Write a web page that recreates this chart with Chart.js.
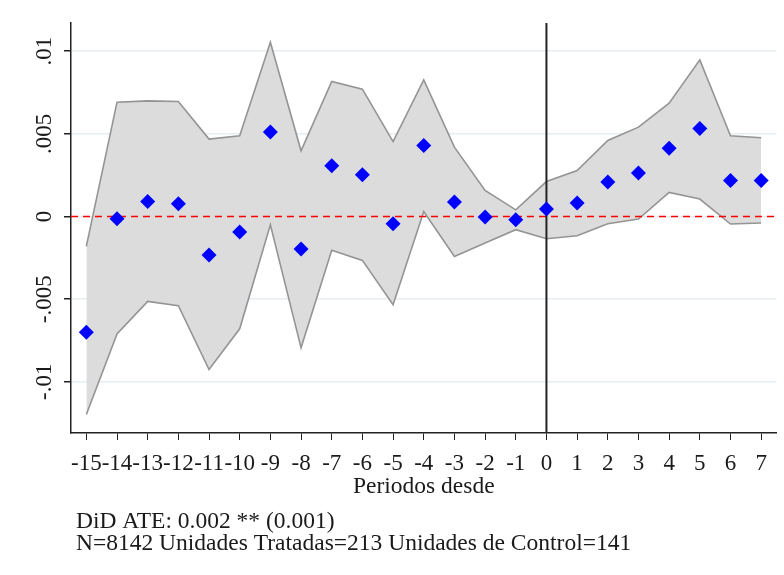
<!DOCTYPE html>
<html>
<head>
<meta charset="utf-8">
<script src="https://cdn.jsdelivr.net/npm/chart.js@4"></script>
<style>
  html, body { margin: 0; padding: 0; background: #fff; }
  #wrap { width: 784px; height: 575px; position: relative; }
</style>
</head>
<body>
<div id="wrap"><canvas id="didChart"></canvas></div>
<script>
// event-study periods and estimates
const periods = [-15, -14, -13, -12, -11, -10, -9, -8, -7, -6, -5, -4, -3, -2, -1, 0, 1, 2, 3, 4, 5, 6, 7];
const coef    = [-0.0070, -0.00014, 0.0009, 0.00077, -0.00233, -0.00094, 0.0051, -0.00197, 0.00306, 0.00252, -0.00044, 0.00429, 0.00087, -0.00004, -0.0002, 0.00045, 0.00081, 0.00208, 0.00262, 0.00413, 0.00532, 0.00218, 0.00218];
const ciUpper = [-0.00181, 0.00691, 0.00699, 0.00695, 0.00468, 0.00488, 0.01054, 0.00397, 0.00816, 0.0077, 0.00453, 0.00826, 0.00419, 0.00157, 0.0004, 0.00211, 0.00278, 0.00459, 0.0054, 0.00685, 0.00947, 0.00488, 0.00476];
const ciLower = [-0.01198, -0.00711, -0.00514, -0.0054, -0.00926, -0.0068, -0.0005, -0.00795, -0.00205, -0.00266, -0.00534, 0.0003, -0.00242, -0.00161, -0.0008, -0.00135, -0.00117, -0.00044, -0.00016, 0.00145, 0.00105, -0.00046, -0.0004];
const yTicks = [-0.01, -0.005, 0, 0.005, 0.01];
const yTickLabels = ['-.01', '-.005', '0', '.005', '.01'];
const xTitle = 'Periodos desde';
const notes = ['DiD ATE: 0.002 ** (0.001)', 'N=8142 Unidades Tratadas=213 Unidades de Control=141'];

const FONT = '"Liberation Serif", "Times New Roman", serif';
const toXY = arr => arr.map((v, i) => ({ x: periods[i], y: v }));

// zero line (red dashed) and treatment line (black) go under the diamonds
const refLines = {
    id: 'refLines',
    beforeDatasetDraw(chart, args) {
        if (args.index !== 0) return;
        const { ctx, chartArea: a, scales: { x, y } } = chart;
        ctx.save();
        const y0 = y.getPixelForValue(0);
        ctx.strokeStyle = '#ff0000';
        ctx.lineWidth = 1.5;
        ctx.setLineDash([7, 5]);
        ctx.beginPath();
        ctx.moveTo(a.left, y0);
        ctx.lineTo(a.right, y0);
        ctx.stroke();
        ctx.setLineDash([]);
        const x0 = x.getPixelForValue(0);
        ctx.strokeStyle = '#222';
        ctx.lineWidth = 2;
        ctx.beginPath();
        ctx.moveTo(x0, a.top);
        ctx.lineTo(x0, a.bottom);
        ctx.stroke();
        ctx.restore();
    }
};

// rotated y tick labels and the footnote lines
const textBits = {
    id: 'textBits',
    afterDraw(chart) {
        const { ctx, scales: { y } } = chart;
        ctx.save();
        ctx.fillStyle = '#1a1a1a';
        ctx.font = '23px ' + FONT;
        ctx.textAlign = 'center';
        ctx.textBaseline = 'middle';
        yTicks.forEach((v, i) => {
            ctx.save();
            ctx.translate(45, y.getPixelForValue(v));
            ctx.rotate(-Math.PI / 2);
            ctx.fillText(yTickLabels[i], 0, 0);
            ctx.restore();
        });
        ctx.textAlign = 'left';
        ctx.textBaseline = 'alphabetic';
        ctx.font = '23.5px ' + FONT;
        notes.forEach((t, i) => ctx.fillText(t, 76, 528 + i * 22));
        ctx.restore();
    }
};

new Chart(document.getElementById('didChart'), {
    type: 'line',
    data: {
        datasets: [
            {
                label: 'coef',
                data: toXY(coef),
                showLine: false,
                pointStyle: 'rectRot',
                pointRadius: 7.5,
                pointBackgroundColor: '#0000ff',
                pointBorderColor: '#0000ff',
                pointBorderWidth: 0
            },
            {
                label: 'lower',
                data: toXY(ciLower),
                borderColor: '#949494',
                borderWidth: 1.6,
                pointRadius: 0,
                tension: 0,
                fill: false
            },
            {
                label: 'upper',
                data: toXY(ciUpper),
                borderColor: '#949494',
                borderWidth: 1.6,
                backgroundColor: '#dcdcdc',
                pointRadius: 0,
                tension: 0,
                fill: '-1'
            }
        ]
    },
    options: {
        responsive: true,
        maintainAspectRatio: false,
        animation: false,
        layout: { padding: { top: 23, right: 7, bottom: 70, left: 0 } },
        plugins: {
            legend: { display: false },
            tooltip: { enabled: false }
        },
        scales: {
            x: {
                type: 'linear',
                min: -15.5,
                max: 7.5,
                afterBuildTicks: s => { s.ticks = periods.map(v => ({ value: v })); },
                afterFit: s => { s.height = 575 - 433 - 70; },
                grid: { display: true, drawOnChartArea: false, color: '#222', tickLength: 7 },
                border: { display: true, color: '#222', width: 1.5 },
                ticks: {
                    color: '#1a1a1a',
                    font: { family: FONT, size: 23 },
                    padding: 10,
                    maxRotation: 0,
                    autoSkip: false
                },
                title: {
                    display: true,
                    text: xTitle,
                    color: '#1a1a1a',
                    font: { family: FONT, size: 23.5 },
                    padding: { top: 0, bottom: 4 }
                }
            },
            y: {
                min: -0.0131,
                max: 0.0117,
                afterBuildTicks: s => { s.ticks = yTicks.map(v => ({ value: v })); },
                afterFit: s => { s.width = 71; },
                grid: { color: '#e6eef2', tickColor: '#222', tickLength: 7, lineWidth: 1.5 },
                border: { display: true, color: '#222', width: 1.5 },
                ticks: { display: false }
            }
        }
    },
    plugins: [refLines, textBits]
});
</script>
</body>
</html>
